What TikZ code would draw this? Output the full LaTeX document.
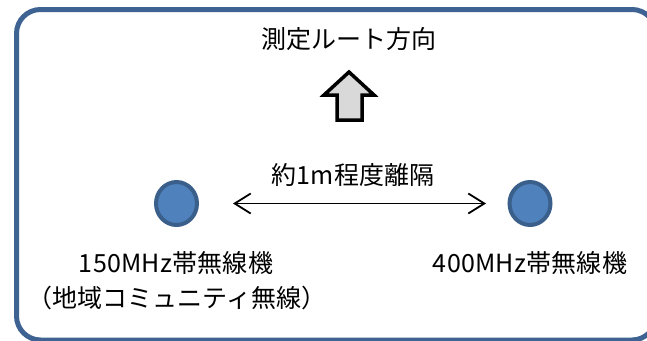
\documentclass[tikz,border=0pt]{standalone}
\usepackage{fontspec}
\setmainfont{Noto Sans CJK JP}
\usetikzlibrary{arrows.meta,shapes.geometric}
\definecolor{framecol}{RGB}{62,99,146}
\definecolor{dotfill}{RGB}{79,129,189}
\definecolor{dotline}{RGB}{58,95,139}
\definecolor{arrowfill}{RGB}{217,217,217}
\tikzset{
  lbl/.style={inner sep=0pt, font=\fontsize{25pt}{28pt}\selectfont},
  radio/.style={ellipse, draw=dotline, fill=dotfill, line width=4pt,
    minimum width=41pt, minimum height=43pt, inner sep=0pt},
  gap/.style={line width=1.8pt, {Straight Barb[length=16pt,width=20pt]}-{Straight Barb[length=16pt,width=20pt]}},
  blockarrow/.style={draw=black, fill=arrowfill, line width=3.5pt, line join=miter}
}
\begin{document}
\begin{tikzpicture}[x=1pt,y=-1pt]
\useasboundingbox (0,0) rectangle (647,340);
\begin{scope}
\clip (0,0) rectangle (647,340);
\draw[framecol, line width=5pt, rounded corners=24pt] (16.5,9.5) rectangle (656,340);
\end{scope}
\node[lbl] (title) at (349,39) {測定ルート方向};
\draw[blockarrow] (349,72) -- (374,95) -- (362,95) -- (362,120) -- (337,120) -- (337,95) -- (324,95) -- cycle;
\node[lbl] (dist) at (353,175) {約1m程度離隔};
\node[radio] (r1) at (176.5,203.5) {};
\node[radio] (r2) at (530,203.5) {};
\coordinate (g1) at (233,203.5);
\coordinate (g2) at (486,203.5);
\draw[gap] (g1) -- (g2);
\node[lbl] (l1a) at (176,263) {\addfontfeatures{LetterSpace=1}150MHz帯無線機};
\node[lbl] (l1b) at (177,298) {（地域コミュニティ無線）};
\node[lbl] (l2) at (530,263) {\addfontfeatures{LetterSpace=1}400MHz帯無線機};
\end{tikzpicture}
\end{document}
